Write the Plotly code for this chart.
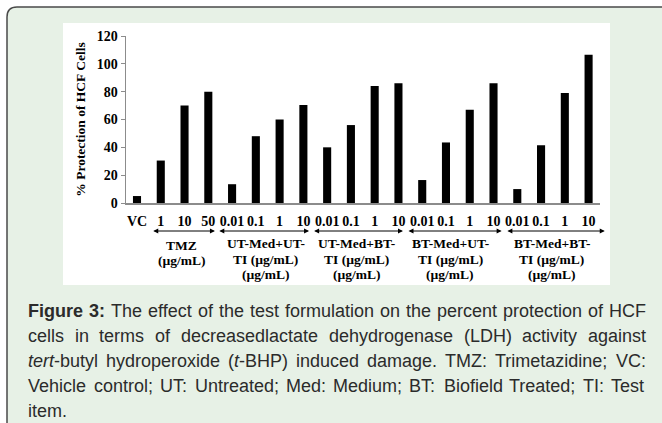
import re
import plotly.graph_objects as go

# ---------------- data ----------------
tick_labels = ["VC", "1", "10", "50",
               "0.01", "0.1", "1", "10",
               "0.01", "0.1", "1", "10",
               "0.01", "0.1", "1", "10",
               "0.01", "0.1", "1", "10"]
vc_values = [5]
tmz_values = [30.5, 70, 80]
ut_med_ut_ti = [13.5, 48, 60, 70.5]
ut_med_bt_ti = [40, 56, 84, 86]
bt_med_ut_ti = [16.5, 43.5, 67, 86]
bt_med_bt_ti = [10, 41.5, 79, 106.5]
values = vc_values + tmz_values + ut_med_ut_ti + ut_med_bt_ti + bt_med_ut_ti + bt_med_bt_ti

group_labels = [["TMZ", "(µg/mL)"],
                ["UT-Med+UT-", "TI (µg/mL)", "(µg/mL)"],
                ["UT-Med+BT-", "TI (µg/mL)", "(µg/mL)"],
                ["BT-Med+UT-", "TI (µg/mL)", "(µg/mL)"],
                ["BT-Med+BT-", "TI (µg/mL)", "(µg/mL)"]]
y_ticks = [0, 20, 40, 60, 80, 100, 120]
y_title = "% Protection of HCF Cells"

caption_lines = [
    "<b>Figure</b> <b>3:</b> The effect of the test formulation on the percent protection of HCF",
    "cells in terms of decreasedlactate dehydrogenase (LDH) activity against",
    "<i>tert</i>-butyl hydroperoxide (<i>t</i>-BHP) induced damage. TMZ: Trimetazidine; VC:",
    "Vehicle control; UT: Untreated; Med: Medium; BT: Biofield Treated; TI: Test",
    "item.",
]

# ---------------- layout geometry ----------------
W, H = 662, 423
L, R, T, B = 126, 62, 36, 220
PW, PH = W - L - R, H - T - B
Y0PIX = H - B

def px(x):
    return (x - L) / PW

def py(y):
    return (Y0PIX - y) / PH

SERIF = "Liberation Serif, Times New Roman, serif"
SANS = "Liberation Sans, Arial, Helvetica, sans-serif"

fig = go.Figure()
fig.add_trace(go.Bar(
    x=list(range(len(values))), y=values,
    width=0.34, marker=dict(color="black", line=dict(width=0)),
    hoverinfo="skip",
))

shapes = []
# green outer box with rounded top-left corner
x0, y0, x1, y1, r = 7, 7, 680, 440, 10
path = (f"M {px(x0)},{py(y1)} L {px(x0)},{py(y0 + r)} "
        f"Q {px(x0)},{py(y0)} {px(x0 + r)},{py(y0)} "
        f"L {px(x1)},{py(y0)} L {px(x1)},{py(y1)} Z")
shapes.append(dict(type="path", xref="paper", yref="paper", path=path,
                   fillcolor="#e7f1e6", line=dict(color="#4a4a4a", width=1.5),
                   layer="below"))
# white chart panel
shapes.append(dict(type="rect", xref="paper", yref="paper",
                   x0=px(63), x1=px(610), y0=py(285), y1=py(23),
                   fillcolor="white", line=dict(width=0), layer="below"))

annotations = []
# group arrows
arrow_spans = [(0.62, 3.28), (3.40, 7.24), (7.39, 11.19), (11.36, 15.34), (15.52, 19.68)]
for a, b in arrow_spans:
    annotations.append(dict(x=b, ax=a, xref="x", axref="x",
                            y=py(231), ay=0, yref="paper", ayref="pixel",
                            text="", showarrow=True, arrowside="end+start",
                            arrowhead=2, arrowsize=1, arrowwidth=1,
                            arrowcolor="black", standoff=0, startstandoff=0))
# group labels (one annotation per text line, tight line spacing)
group_x = [1.89, 5.41, 9.25, 13.17, 17.45]
group_first = [245, 243.5, 243.5, 243.5, 243.5]
LINE_DY = 15.5
for gx, gy, lines in zip(group_x, group_first, group_labels):
    for k, txt in enumerate(lines):
        annotations.append(dict(x=gx, xref="x", y=py(gy + k * LINE_DY), yref="paper",
                                yanchor="middle", xanchor="center", text=txt,
                                showarrow=False,
                                font=dict(family=SERIF, size=13.5, color="black",
                                          weight="bold")))

# ---------------- caption (justified, Helvetica/Arial metrics) ----------------
REG = {' ': 278, 'a': 556, 'b': 556, 'c': 500, 'd': 556, 'e': 556, 'f': 278,
       'g': 556, 'h': 556, 'i': 222, 'j': 222, 'k': 500, 'l': 222, 'm': 833,
       'n': 556, 'o': 556, 'p': 556, 'q': 556, 'r': 333, 's': 500, 't': 278,
       'u': 556, 'v': 500, 'w': 722, 'x': 500, 'y': 500, 'z': 500,
       'A': 667, 'B': 667, 'C': 722, 'D': 722, 'E': 667, 'F': 611, 'G': 778,
       'H': 722, 'I': 278, 'J': 500, 'K': 667, 'L': 556, 'M': 833, 'N': 722,
       'O': 778, 'P': 667, 'Q': 778, 'R': 722, 'S': 667, 'T': 611, 'U': 722,
       'V': 667, 'W': 944, 'X': 667, 'Y': 667, 'Z': 611,
       ':': 278, ';': 278, '(': 333, ')': 333, '-': 333, '.': 278, ',': 278}
BOLD = {'F': 611, 'i': 278, 'g': 611, 'u': 611, 'r': 389, 'e': 556, '3': 556,
        ':': 333, ' ': 278}
CAP_SIZE = 18
CAP_LEFT, CAP_RIGHT = 27, 645
CAP_Y0, CAP_DY = 311, 25

def word_width(w):
    bold = "<b>" in w
    plain = re.sub(r"<[^>]+>", "", w)
    tbl = BOLD if bold else REG
    return sum(tbl.get(c, 556) for c in plain) * CAP_SIZE / 1000

for li, line in enumerate(caption_lines):
    words = line.split(" ")
    widths = [word_width(w) for w in words]
    last = li == len(caption_lines) - 1
    if len(words) > 1 and not last:
        gap = (CAP_RIGHT - CAP_LEFT - sum(widths)) / (len(words) - 1)
    else:
        gap = REG[' '] * CAP_SIZE / 1000
    xpos = CAP_LEFT
    ypix = CAP_Y0 + li * CAP_DY
    for w, wd in zip(words, widths):
        annotations.append(dict(x=px(xpos), xref="paper", y=py(ypix), yref="paper",
                                xanchor="left", yanchor="middle", text=w,
                                showarrow=False, borderpad=0,
                                font=dict(family=SANS, size=CAP_SIZE, color="#2b2b2b")))
        xpos += wd + gap

fig.update_layout(
    width=W, height=H,
    margin=dict(l=L, r=R, t=T, b=B, pad=0),
    paper_bgcolor="white",
    plot_bgcolor="rgba(0,0,0,0)",
    showlegend=False,
    bargap=0.66,
    hovermode=False,
    shapes=shapes,
    annotations=annotations,
    xaxis=dict(range=[-0.463, 19.48], tickmode="array",
               tickvals=list(range(len(tick_labels))), ticktext=tick_labels,
               ticks="outside", ticklen=5, tickcolor="rgba(0,0,0,0)",
               showline=True, linecolor="#8c8c8c", linewidth=1.5,
               showgrid=False, zeroline=False,
               tickfont=dict(family=SERIF, size=14, color="black", weight="bold")),
    yaxis=dict(range=[0, 120], tickmode="array", tickvals=y_ticks,
               ticks="outside", ticklen=4, tickcolor="#8c8c8c", tickwidth=1,
               showline=True, linecolor="#8c8c8c", linewidth=1.5,
               showgrid=False, zeroline=False,
               tickfont=dict(family=SERIF, size=14, color="black", weight="bold"),
               title=dict(text=y_title, standoff=8,
                          font=dict(family=SERIF, size=13.5, color="black",
                                    weight="bold"))),
)

fig.write_html("out.html", config={"displayModeBar": False, "staticPlot": True},
               post_script="document.body.style.margin='0';")
